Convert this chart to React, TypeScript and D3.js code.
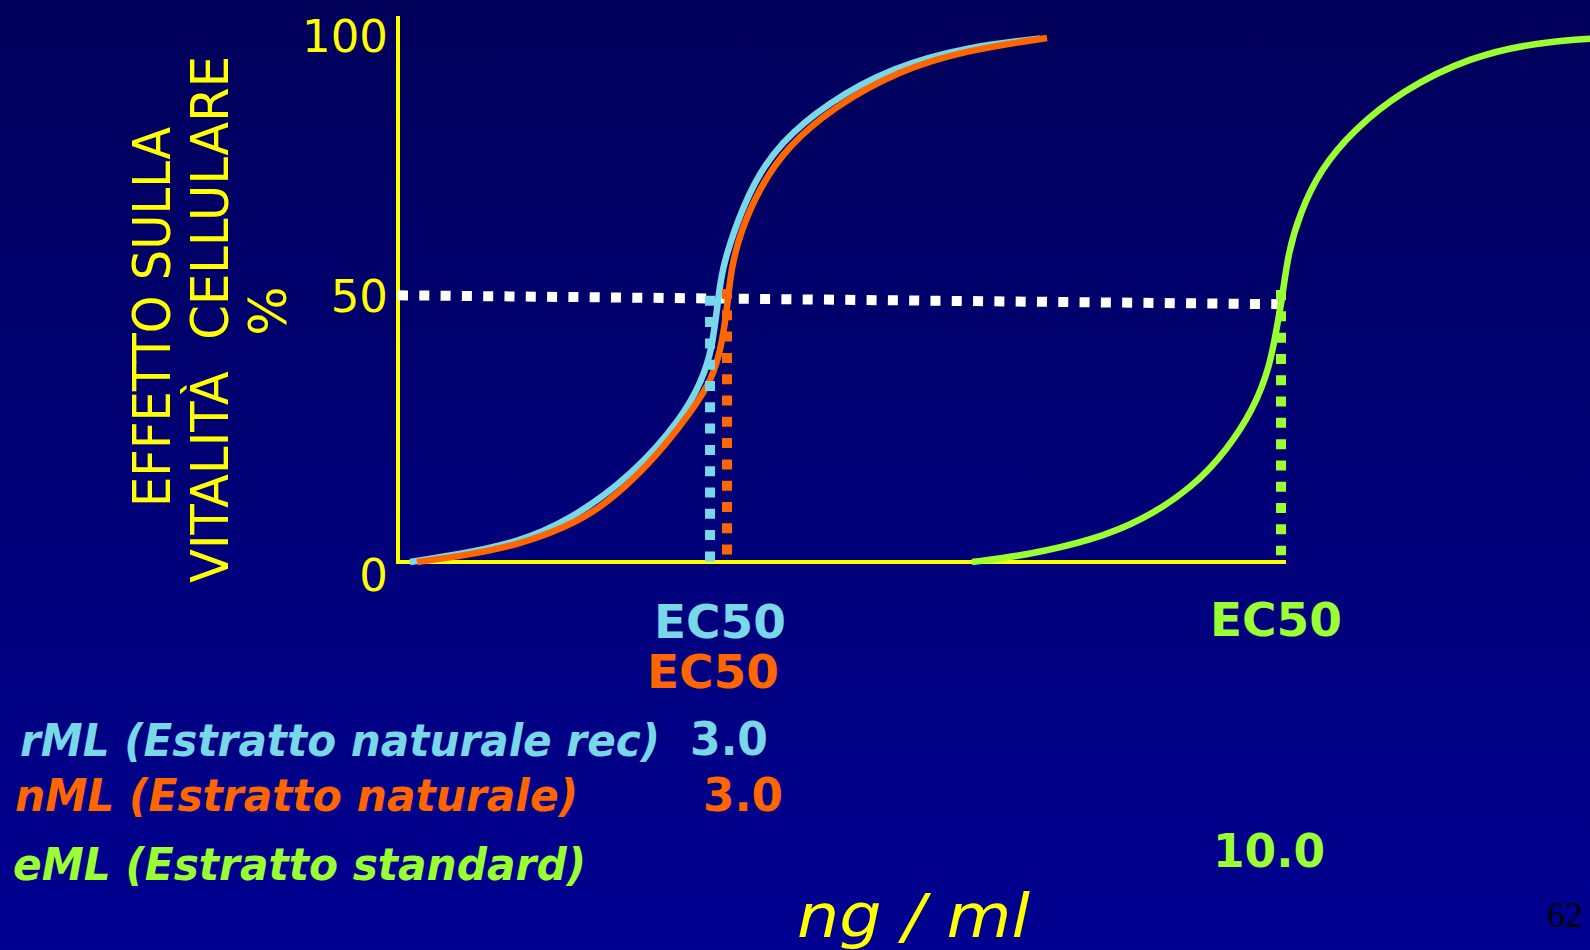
import React from "react";
import * as d3 from "d3";

// ---------- DATA ----------
// x: relative concentration position (0 = origin, 100 = end of x axis line), y: % effect
const yTicks = [0, 50, 100];
const yTickLabelPos = [-2.5, 50.8, 100.5];

const rmlCurve: [number, number][] = [
  [1.35, 0], [7.77, 1.7], [13.4, 3.8], [19.03, 7.6], [26.46, 16.6], [32.09, 27.7],
  [34.23, 34.7], [35.36, 40.5], [36.04, 50], [36.49, 55.7], [37.73, 62.8], [39.98, 72.3],
  [43.02, 80.0], [48.31, 87.6], [55.74, 94.5], [64.08, 98.3], [72.3, 99.9],
];
const nmlCurve: [number, number][] = [
  [2.14, 0], [7.77, 1.3], [13.4, 3.2], [19.03, 6.7], [22.75, 10.3], [26.46, 15.6],
  [30.29, 22.7], [32.88, 28.4], [35.36, 34.7], [36.49, 41.4], [37.16, 50], [37.5, 55.7],
  [38.51, 62.8], [40.77, 71.6], [43.81, 79.2], [48.99, 86.8], [56.53, 93.9], [64.08, 97.7],
  [73.09, 100],
];
const emlCurve: [number, number][] = [
  [64.64, 0], [70.83, 1.3], [78.27, 4.2], [83.9, 8.0], [89.53, 14.3], [93.36, 21.4],
  [96.28, 29.0], [98.2, 37.2], [99.1, 46.2], [99.55, 50], [100.23, 59.0], [101.58, 66.6],
  [103.83, 74.8], [107.55, 82.4], [113.18, 90.1], [120.72, 96.4], [128.27, 99.2], [135.4, 100],
];
// EC50 drop lines: x position, from y0 to y1
const ec50X = [35.14, 37.05, 99.44];
const ec50Y0 = [0, 1.3, 1.3];
const ec50Y1 = [50.8, 52.1, 51.9];
// 50% reference (white dotted)
const refLine: [number, number][] = [[0, 50.9], [99.1, 49.2]];

const seriesNames = ["rML (Estratto naturale rec)", "nML (Estratto naturale)", "eML (Estratto standard)"];
const ec50Values = ["3.0", "3.0", "10.0"];
const ec50Label = "EC50";
const yTitleLines = ["EFFETTO SULLA", "VITALITÀ  CELLULARE", "%"];
const xTitle = "ng / ml";
const pageNumber = "62";

// ---------- STYLE / LAYOUT ----------
const W = 1590, H = 950;
const COLORS = ["#78D7E8", "#FF6600", "#99FF33"];
const YELLOW = "#FFFF00";
const FONT = "'DejaVu Sans', Verdana, sans-serif";

export default function App() {
  const x = d3.scaleLinear().domain([0, 100]).range([398, 1286]);
  const y = d3.scaleLinear().domain([0, 100]).range([562, 38]);
  const line = d3
    .line<[number, number]>()
    .x((d) => x(d[0]))
    .y((d) => y(d[1]))
    .curve(d3.curveBasis);
  const straight = d3
    .line<[number, number]>()
    .x((d) => x(d[0]))
    .y((d) => y(d[1]));

  const curves = [rmlCurve, nmlCurve, emlCurve];

  const ec50Pos = [
    { x: 654, y: 638, len: 132 },
    { x: 647, y: 688, len: 132 },
    { x: 1210, y: 636, len: 132 },
  ];
  const namePos = [
    { x: 20, y: 756, len: 640 },
    { x: 15, y: 811, len: 563 },
    { x: 13, y: 880, len: 573 },
  ];
  const valPos = [
    { x: 690, y: 755, len: 78 },
    { x: 703, y: 811, len: 80 },
    { x: 1213, y: 867, len: 112 },
  ];
  const titlePos = [
    { x: 170, y: 317, len: 380 },
    { x: 228, y: 319.5, len: 527 },
    { x: 286, y: 311, len: 0 },
  ];

  return (
    <svg
      width={W}
      height={H}
      viewBox={`0 0 ${W} ${H}`}
      style={{ position: "absolute", left: 0, top: 0, display: "block" }}
    >
      <defs>
        <linearGradient id="bg" x1="0" y1="0" x2="0" y2="1">
          <stop offset="0" stopColor="#00005A" />
          <stop offset="1" stopColor="#000091" />
        </linearGradient>
      </defs>
      <rect x={0} y={0} width={W} height={H} fill="url(#bg)" />

      {/* axes */}
      <line x1={x(0)} x2={x(0)} y1={y(0)} y2={y(104.2)} stroke={YELLOW} strokeWidth={4} />
      <line x1={x(0) - 2} x2={x(100)} y1={y(0)} y2={y(0)} stroke={YELLOW} strokeWidth={4} />

      {/* y tick labels */}
      {yTicks.map((t, i) => (
        <text
          key={t}
          x={388}
          y={y(yTickLabelPos[i])}
          dy="0.36em"
          textAnchor="end"
          fill={YELLOW}
          fontFamily={FONT}
          fontSize={45}
        >
          {t}
        </text>
      ))}

      {/* white 50% dotted line */}
      <path
        d={straight(refLine) || ""}
        fill="none"
        stroke="#FFFFFF"
        strokeWidth={10}
        strokeDasharray="10 11.3"
      />

      {/* curves */}
      {curves.map((c, i) => (
        <path key={i} d={line(c) || ""} fill="none" stroke={COLORS[i]} strokeWidth={6.5} />
      ))}

      {/* EC50 drop lines */}
      {ec50X.map((vx, i) => (
        <line
          key={i}
          x1={x(vx)}
          x2={x(vx)}
          y1={y(ec50Y1[i])}
          y2={y(ec50Y0[i])}
          stroke={COLORS[i]}
          strokeWidth={10}
          strokeDasharray="10 11.3"
        />
      ))}

      {/* y title */}
      {yTitleLines.map((t, i) => (
        <text
          key={i}
          transform={`translate(${titlePos[i].x},${titlePos[i].y}) rotate(-90)`}
          textAnchor="middle"
          fill={YELLOW}
          fontFamily={FONT}
          fontSize={52}
          style={{ whiteSpace: "pre" }}
          {...(titlePos[i].len ? { textLength: titlePos[i].len, lengthAdjust: "spacingAndGlyphs" } : {})}
        >
          {t}
        </text>
      ))}

      {/* EC50 labels */}
      {ec50Pos.map((p, i) => (
        <text
          key={i}
          x={p.x}
          y={p.y}
          fill={COLORS[i]}
          fontFamily={FONT}
          fontWeight="bold"
          fontSize={46}
          textLength={p.len}
          lengthAdjust="spacingAndGlyphs"
        >
          {ec50Label}
        </text>
      ))}

      {/* legend names */}
      {seriesNames.map((n, i) => (
        <text
          key={i}
          x={namePos[i].x}
          y={namePos[i].y}
          fill={COLORS[i]}
          fontFamily={FONT}
          fontWeight="bold"
          fontStyle="italic"
          fontSize={44}
          textLength={namePos[i].len}
          lengthAdjust="spacingAndGlyphs"
        >
          {n}
        </text>
      ))}

      {/* EC50 values */}
      {ec50Values.map((v, i) => (
        <text
          key={i}
          x={valPos[i].x}
          y={valPos[i].y}
          fill={COLORS[i]}
          fontFamily={FONT}
          fontWeight="bold"
          fontSize={47}
          textLength={valPos[i].len}
          lengthAdjust="spacingAndGlyphs"
        >
          {v}
        </text>
      ))}

      {/* x title */}
      <text
        x={797}
        y={937}
        fill={YELLOW}
        fontFamily={FONT}
        fontStyle="italic"
        fontSize={60}
        textLength={233}
        lengthAdjust="spacingAndGlyphs"
      >
        {xTitle}
      </text>

      {/* page number */}
      <text x={1547} y={927} fill="#000000" fontFamily="'Liberation Serif', 'Times New Roman', serif" fontSize={36}>
        {pageNumber}
      </text>
    </svg>
  );
}
